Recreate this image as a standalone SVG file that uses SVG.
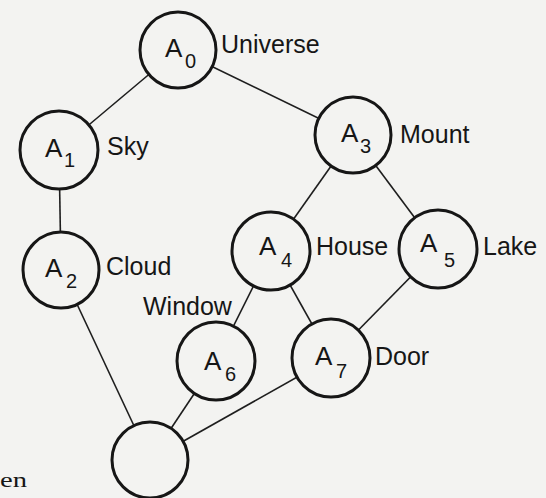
<svg xmlns="http://www.w3.org/2000/svg" width="546" height="498" viewBox="0 0 546 498">
<style>
.n{fill:#f3f3f1;stroke:#161616;stroke-width:3}
.e{stroke:#1e1e1e;stroke-width:1.6;fill:none}
.t{font-family:"Liberation Sans",Arial,sans-serif;font-size:25px;fill:#161616}
.a{font-family:"Liberation Sans",Arial,sans-serif;font-size:26px;fill:#161616}
.s{font-family:"Liberation Sans",Arial,sans-serif;font-size:20px;fill:#161616}
</style>
<rect width="546" height="498" fill="#f3f3f1"/>
<g id="connectors">
<line class="e" x1="178" y1="50" x2="59" y2="150"/>
<line class="e" x1="178" y1="50" x2="353" y2="135"/>
<line class="e" x1="59" y1="150" x2="61" y2="270"/>
<line class="e" x1="353" y1="135" x2="271" y2="251"/>
<line class="e" x1="353" y1="135" x2="438" y2="249"/>
<line class="e" x1="271" y1="251" x2="216" y2="361"/>
<line class="e" x1="271" y1="251" x2="331" y2="358"/>
<line class="e" x1="438" y1="249" x2="331" y2="358"/>
<line class="e" x1="61" y1="270" x2="150" y2="460"/>
<line class="e" x1="216" y1="361" x2="150" y2="460"/>
<line class="e" x1="331" y1="358" x2="150" y2="460"/>
</g>
<g id="A0"><circle class="n" cx="178" cy="50" r="38"/><text class="a" x="165" y="57">A</text><text class="s" x="185" y="68">0</text><text class="t" x="221" y="53">Universe</text></g>
<g id="A1"><circle class="n" cx="59" cy="150" r="39"/><text class="a" x="45" y="157">A</text><text class="s" x="64" y="167">1</text><text class="t" x="107" y="155">Sky</text></g>
<g id="A2"><circle class="n" cx="61" cy="270" r="38"/><text class="a" x="45" y="277">A</text><text class="s" x="66" y="288">2</text><text class="t" x="106" y="275">Cloud</text></g>
<g id="A3"><circle class="n" cx="353" cy="135" r="38"/><text class="a" x="341" y="142">A</text><text class="s" x="360" y="153">3</text><text class="t" x="400" y="143">Mount</text></g>
<g id="A4"><circle class="n" cx="271" cy="251" r="39"/><text class="a" x="259" y="255">A</text><text class="s" x="281" y="267">4</text><text class="t" x="316" y="255">House</text></g>
<g id="A5"><circle class="n" cx="438" cy="249" r="39"/><text class="a" x="420" y="252">A</text><text class="s" x="444" y="267">5</text><text class="t" x="483" y="255">Lake</text></g>
<g id="A6"><circle class="n" cx="216" cy="361" r="39"/><text class="a" x="204" y="370">A</text><text class="s" x="225" y="381">6</text><text class="t" x="143" y="315">Window</text></g>
<g id="A7"><circle class="n" cx="331" cy="358" r="39"/><text class="a" x="315" y="365">A</text><text class="s" x="336" y="378">7</text><text class="t" x="375" y="365">Door</text></g>
<g id="bottom"><circle class="n" cx="150" cy="460" r="38"/></g>
<text x="0" y="487" font-family="'Liberation Serif',serif" font-size="21" textLength="27" lengthAdjust="spacingAndGlyphs" fill="#161616">en</text>
</svg>
